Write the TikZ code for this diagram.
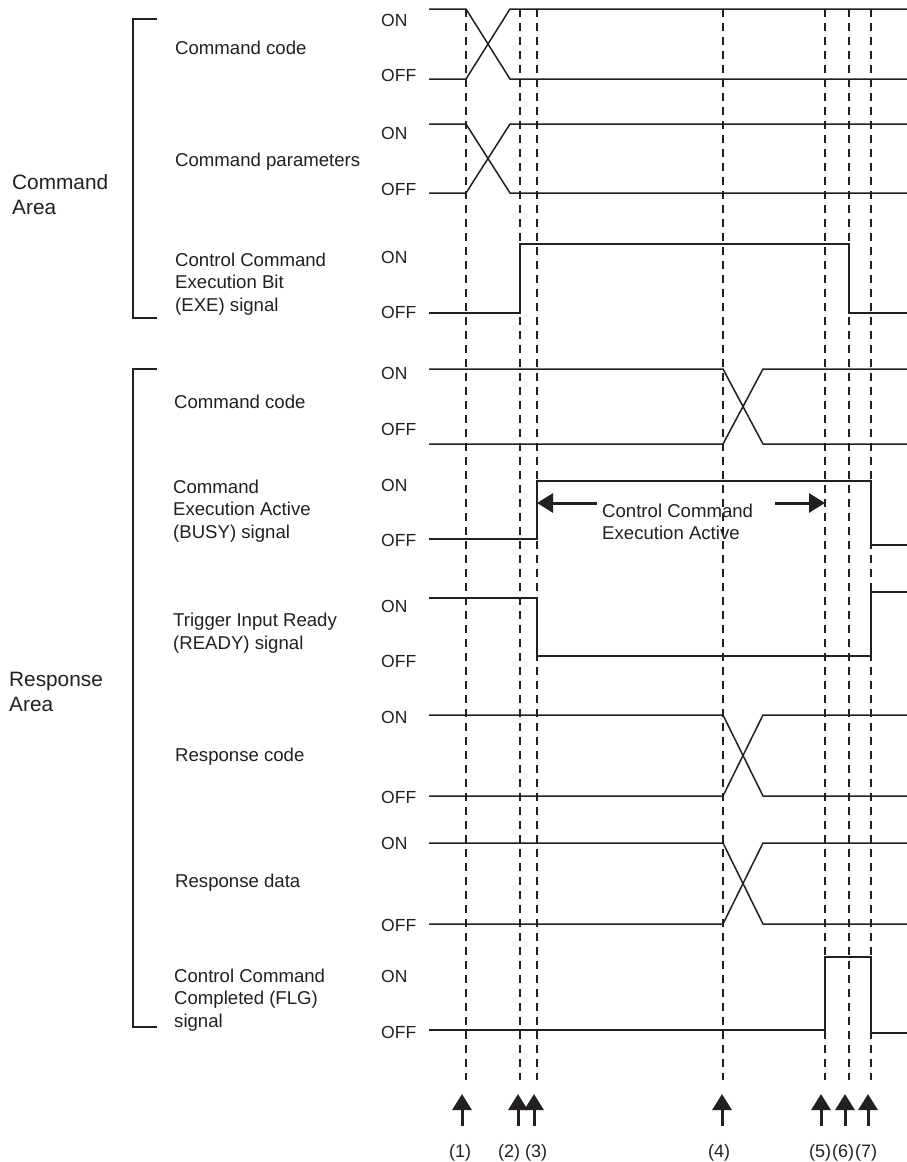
\documentclass[tikz,border=0pt]{standalone}
\usepackage{fontspec}
\setmainfont{Liberation Sans}
\usetikzlibrary{arrows.meta, positioning, calc}
\definecolor{DG}{RGB}{35,31,32}

\begin{document}
\begin{tikzpicture}[x=1pt, y=-1pt,
  lab/.style={anchor=west, align=left, inner sep=0pt, text=DG,
              font=\fontsize{18.6}{22.5}\selectfont},
  area/.style={anchor=west, align=left, inner sep=0pt, text=DG,
               font=\fontsize{20.8}{25}\selectfont},
  lvl/.style={anchor=west, inner sep=0pt, text=DG,
              font=\fontsize{17.5}{20}\selectfont},
  num/.style={inner sep=0pt, text=DG, font=\fontsize{18}{22}\selectfont},
  sig/.style={line width=1.5pt, draw=DG, line join=miter},
  grid/.style={line width=1.3pt, draw=DG, dash pattern=on 8pt off 6pt},
  brk/.style={line width=2.7pt, draw=DG},
  arr/.style={-{Triangle[length=16pt,width=19pt]}, line width=3pt, draw=DG}
]
\useasboundingbox (0,0) rectangle (907,1162);

% Area brackets
\node[area] (cmdarea)  at (12,195) {Command\\Area};
\node[area] (resparea) at (9,692)  {Response\\Area};
\draw[brk] (157,19) -- (133,19) -- (133,318) -- (157,318);
\draw[brk] (157,369) -- (133,369) -- (133,1027) -- (157,1027);

% Signal names
\node[lab] (cc)    at (175,48)   {Command code};
\node[lab] (cp)    at (175,162)  {Command parameters};
\node[lab] (exe)   at (175,284)  {Control Command\\Execution Bit\\(EXE) signal};
\node[lab] (rcc)   at (174,402)  {Command code};
\node[lab] (busy)  at (173,511)  {Command\\Execution Active\\(BUSY) signal};
\node[lab] (ready) at (173,633)  {Trigger Input Ready\\(READY) signal};
\node[lab] (rc)    at (175,757)  {Response code};
\node[lab] (rd)    at (175,883)  {Response data};
\node[lab] (flg)   at (174,1000) {Control Command\\Completed (FLG)\\signal};

% ON / OFF levels
\node[lvl] (ccOn)     at (381,20)   {ON};
\node[lvl] (ccOff)    at (381,75)   {OFF};
\node[lvl] (cpOn)     at (381,133)  {ON};
\node[lvl] (cpOff)    at (381,189)  {OFF};
\node[lvl] (exeOn)    at (381,257)  {ON};
\node[lvl] (exeOff)   at (381,312)  {OFF};
\node[lvl] (rccOn)    at (381,373)  {ON};
\node[lvl] (rccOff)   at (381,429)  {OFF};
\node[lvl] (busyOn)   at (381,485)  {ON};
\node[lvl] (busyOff)  at (381,540)  {OFF};
\node[lvl] (readyOn)  at (381,606)  {ON};
\node[lvl] (readyOff) at (381,661)  {OFF};
\node[lvl] (rcOn)     at (381,717)  {ON};
\node[lvl] (rcOff)    at (381,797)  {OFF};
\node[lvl] (rdOn)     at (381,843)  {ON};
\node[lvl] (rdOff)    at (381,925)  {OFF};
\node[lvl] (flgOn)    at (381,976)  {ON};
\node[lvl] (flgOff)   at (381,1032) {OFF};

% Timing guides
\draw[grid] (466,9) -- (466,1080);
\draw[grid] (520,9) -- (520,1080);
\draw[grid] (537,9) -- (537,1080);
\draw[grid] (723,9) -- (723,1080);
\draw[grid] (825,9) -- (825,1080);
\draw[grid] (849,9) -- (849,1080);
\draw[grid] (871,9) -- (871,1080);

% Command area waveforms
\draw[sig] (429,9)   -- (466,9)   -- (510,79)  -- (907,79);
\draw[sig] (429,79)  -- (466,79)  -- (510,9)   -- (907,9);
\draw[sig] (429,124) -- (466,124) -- (510,193) -- (907,193);
\draw[sig] (429,193) -- (466,193) -- (510,124) -- (907,124);
\draw[sig] (429,313) -- (520,313) -- (520,244) -- (849,244) -- (849,313) -- (907,313);

% Response area waveforms
\draw[sig] (429,369)  -- (723,369)  -- (763,444)  -- (907,444);
\draw[sig] (429,444)  -- (723,444)  -- (763,369)  -- (907,369);
\draw[sig] (429,539)  -- (537,539)  -- (537,481)  -- (871,481) -- (871,545) -- (907,545);
\draw[sig] (429,598)  -- (537,598)  -- (537,656)  -- (871,656) -- (871,592) -- (907,592);
\draw[sig] (429,715)  -- (723,715)  -- (763,796)  -- (907,796);
\draw[sig] (429,796)  -- (723,796)  -- (763,715)  -- (907,715);
\draw[sig] (429,843)  -- (723,843)  -- (763,924)  -- (907,924);
\draw[sig] (429,924)  -- (723,924)  -- (763,843)  -- (907,843);
\draw[sig] (429,1030) -- (825,1030) -- (825,957)  -- (871,957) -- (871,1033) -- (907,1033);

% Execution active span
\node[lab] (actv) at (602,522) {Control Command\\Execution Active};
\coordinate (actvL) at (597,503);
\coordinate (actvA) at (537,503);
\coordinate (actvR) at (775,503);
\coordinate (actvB) at (825,503);
\draw[arr] (actvL) -- (actvA);
\draw[arr] (actvR) -- (actvB);

% Event markers
\node[num] (n1) at (460,1153) {(1)};
\node[num] (n2) at (509,1153) {(2)};
\node[num] (n3) at (536,1153) {(3)};
\node[num] (n4) at (719,1153) {(4)};
\node[num] (n5) at (820,1153) {(5)};
\node[num] (n6) at (843,1153) {(6)};
\node[num] (n7) at (866,1153) {(7)};
\coordinate (tip1) at (462,1094);
\coordinate (tip2) at (518,1094);
\coordinate (tip3) at (534,1094);
\coordinate (tip4) at (722,1094);
\coordinate (tip5) at (821,1094);
\coordinate (tip6) at (845,1094);
\coordinate (tip7) at (868,1094);
\draw[arr] (n1.north -| tip1) ++(0,-18) -- (tip1);
\draw[arr] (n2.north -| tip2) ++(0,-18) -- (tip2);
\draw[arr] (n3.north -| tip3) ++(0,-18) -- (tip3);
\draw[arr] (n4.north -| tip4) ++(0,-18) -- (tip4);
\draw[arr] (n5.north -| tip5) ++(0,-18) -- (tip5);
\draw[arr] (n6.north -| tip6) ++(0,-18) -- (tip6);
\draw[arr] (n7.north -| tip7) ++(0,-18) -- (tip7);
\end{tikzpicture}
\end{document}
